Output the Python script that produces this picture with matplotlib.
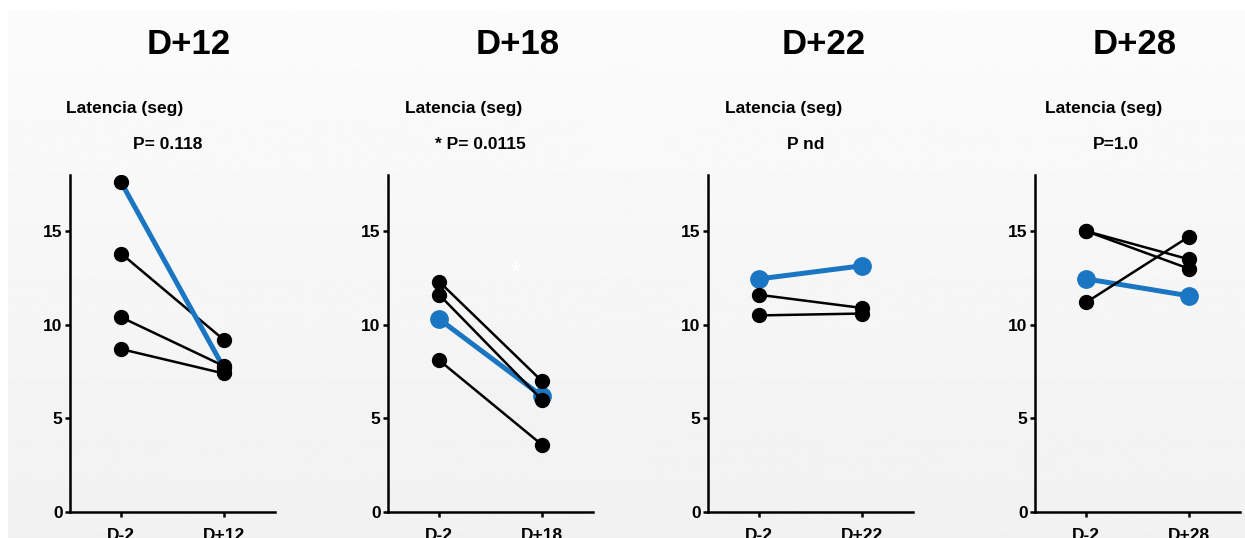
import numpy as np
import matplotlib
matplotlib.use("Agg")
import matplotlib.pyplot as plt

plt.rcParams['font.family'] = ['Liberation Sans', 'DejaVu Sans']

# panel titles and stats text
days = ['D+12', 'D+18', 'D+22', 'D+28']
p_texts = ['P= 0.118', '* P= 0.0115', 'P nd', 'P=1.0']
ylabel_text = 'Latencia (seg)'

# black lines: (D-2 value, D+x value) per subject
black_d12 = [(17.6, 7.7), (13.8, 9.2), (10.4, 7.8), (8.7, 7.4)]
black_d18 = [(12.3, 7.0), (11.6, 6.0), (8.1, 3.6)]
black_d22 = [(11.6, 10.9), (10.5, 10.6)]
black_d28 = [(15.0, 13.5), (15.0, 13.0), (11.2, 14.7)]

# blue line (highlighted subject)
blue_d12 = (17.6, 7.7)
blue_d18 = (10.3, 6.2)
blue_d22 = (12.45, 13.15)
blue_d28 = (12.45, 11.55)

blacks = [black_d12, black_d18, black_d22, black_d28]
blues = [blue_d12, blue_d18, blue_d22, blue_d28]

W, H = 1245, 538
fig = plt.figure(figsize=(W / 100, H / 100), dpi=100)
fig.patch.set_facecolor('white')

# grey gradient background panel
bg = fig.add_axes([8 / W, 0, 1 - 8 / W, (H - 10) / H])
grad = np.linspace(0.985, 0.945, 256)[:, None]
bg.imshow(grad, aspect='auto', cmap='gray', vmin=0, vmax=1,
          extent=[0, 1, 0, 1])
bg.set_axis_off()
bg.set_zorder(-10)

blue = '#1a76c2'
lefts = [70, 388, 708, 1035]
ax_w = 205
ax_top, ax_bot = 175, 512
text_x = [(189, 125, 168), (518, 464, 480), (824, 784, 806), (1135, 1104, 1116)]

for i in range(4):
    ax = fig.add_axes([lefts[i] / W, (H - ax_bot) / H, ax_w / W,
                       (ax_bot - ax_top) / H])
    ax.patch.set_alpha(0)
    if i == 0:
        # first panel: blue segment over its black line, black dots on top
        for a, b in blacks[i]:
            ax.plot([0, 1], [a, b], color='black', lw=1.8, zorder=2)
        ax.plot([0, 1], list(blues[i]), color=blue, lw=3.6, zorder=3,
                solid_capstyle='butt')
        for a, b in blacks[i]:
            ax.plot([0, 1], [a, b], color='black', lw=0, marker='o',
                    ms=10, zorder=4)
    else:
        # blue line first so black points sit on top of it
        ax.plot([0, 1], list(blues[i]), color=blue, lw=3.6, marker='o',
                ms=12.5, zorder=2)
        for a, b in blacks[i]:
            ax.plot([0, 1], [a, b], color='black', lw=1.8, marker='o',
                    ms=10, zorder=3)
    ax.set_xlim(-0.5, 1.5)
    ax.set_ylim(0, 18)
    ax.set_yticks([0, 5, 10, 15])
    ax.set_xticks([0, 1])
    ax.set_xticklabels(['D-2', days[i]])
    for s in ['top', 'right']:
        ax.spines[s].set_visible(False)
    for s in ['left', 'bottom']:
        ax.spines[s].set_linewidth(1.8)
    ax.tick_params(width=1.8, length=3.8, labelsize=12.5, pad=1.5)
    ax.tick_params(axis='x', pad=8)
    for lab in ax.get_xticklabels() + ax.get_yticklabels():
        lab.set_fontweight('bold')
    if i == 1:
        ax.text(0.75, 12.8, '*', color='white', fontsize=18,
                fontweight='bold', ha='center', va='center')

    tx, lx, px = text_x[i]
    fig.text(tx / W, 1 - 45 / H, days[i], fontsize=25, fontweight='bold',
             ha='center', va='center')
    fig.text(lx / W, 1 - 108 / H, ylabel_text, fontsize=12.5,
             fontweight='bold', ha='center', va='center')
    fig.text(px / W, 1 - 145 / H, p_texts[i], fontsize=12.5,
             fontweight='bold', ha='center', va='center')

fig.savefig('out.png', dpi=100, facecolor=fig.get_facecolor())
